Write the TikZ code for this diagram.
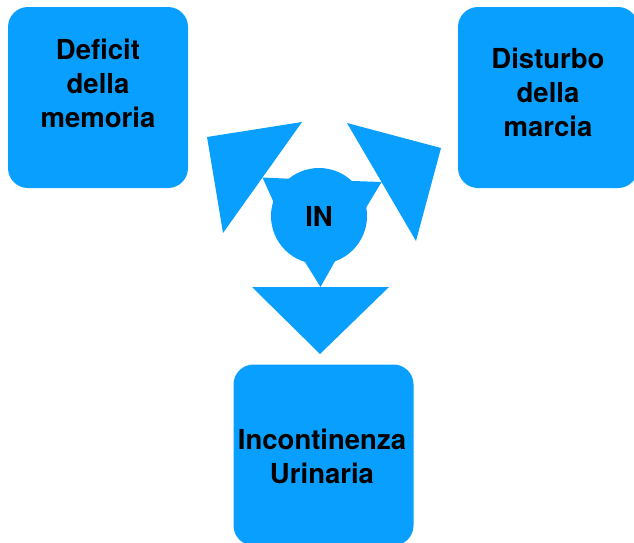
\documentclass[tikz,border=0pt]{standalone}
\usepackage{fontspec}
\setmainfont{TeX Gyre Heros}
\usepackage{tikz}
\usetikzlibrary{calc,backgrounds}
\definecolor{inblue}{RGB}{8,159,254}

\tikzset{
	box/.style={fill=inblue, rounded corners=20pt, minimum width=180pt, minimum height=181pt, inner sep=0pt},
	boxtext/.style={align=center, inner sep=0pt, font=\fontsize{27.5}{34}\selectfont\bfseries},
	hub/.style={circle, fill=inblue, minimum size=96pt, inner sep=0pt},
}

\begin{document}
\begin{tikzpicture}[x=1pt,y=-1pt]
\useasboundingbox (0,0) rectangle (634,542);

	\node (M)[box] at (98,97.5) {};
	\node (D)[box] at (548,97.5) {};
	\node (U)[box] at (323.5,455) {};

	\node (Mt)[boxtext] at (98,83) {Deficit\\della\\memoria};
	\node (Dt)[boxtext] at (548,92) {Disturbo\\della\\marcia};
	\node (Ut)[boxtext] at (322,456) {Incontinenza\\Urinaria};

	\node (IN)[hub, boxtext] at (319,216) {IN};

	% arrow heads: tip and the two base corners
	\coordinate (L0) at (207,137);
	\coordinate (L1) at (302,122);
	\coordinate (L2) at (223,233);
	\coordinate (R0) at (441,148);
	\coordinate (R1) at (347,123);
	\coordinate (R2) at (416,241);
	\coordinate (B0) at (320,354);
	\coordinate (B1) at (252,287);
	\coordinate (B2) at (389,287);

	\coordinate (Lm) at ($(L1)!.5!(L2)$);
	\coordinate (Rm) at ($(R1)!.5!(R2)$);
	\coordinate (Bm) at ($(B1)!.5!(B2)$);

\begin{scope}[on background layer]
	\fill[inblue] ($(IN.center)!42pt!90:(Lm)$) -- ($(IN.center)!42pt!-90:(Lm)$) -- (Lm) -- cycle;
	\fill[inblue] ($(IN.center)!42pt!90:(Rm)$) -- ($(IN.center)!42pt!-90:(Rm)$) -- (Rm) -- cycle;
	\fill[inblue] ($(IN.center)!42pt!90:(Bm)$) -- ($(IN.center)!42pt!-90:(Bm)$) -- (Bm) -- cycle;

	\fill[inblue] (L0) -- (L1) -- (L2) -- cycle;
	\fill[inblue] (R0) -- (R1) -- (R2) -- cycle;
	\fill[inblue] (B0) -- (B1) -- (B2) -- cycle;
\end{scope}

\end{tikzpicture}
\end{document}
